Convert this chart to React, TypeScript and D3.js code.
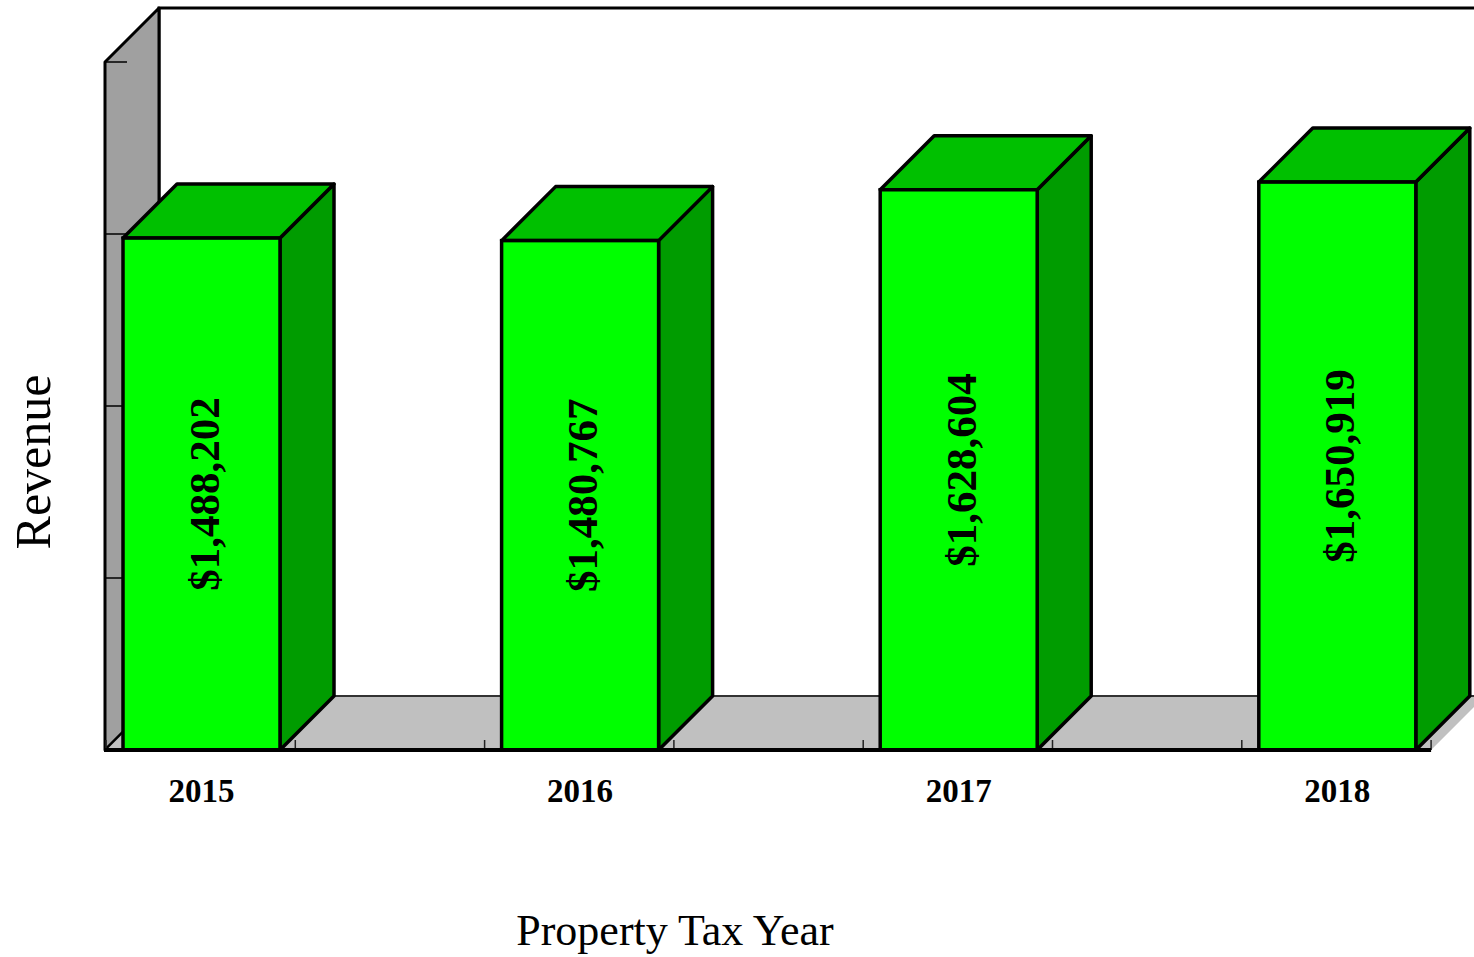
import React, { useEffect, useRef } from "react";
import * as d3 from "d3";

// chart data
const years = ["2015", "2016", "2017", "2018"];
const revenue = [1488202, 1480767, 1628604, 1650919];
const yTicks = [0, 500000, 1000000, 1500000, 2000000];

const App = () => {
  const svgRef = useRef<SVGSVGElement | null>(null);

  useEffect(() => {
    const width = 1474;
    const height = 957;
    const depth = 54; // 3d offset
    const floorY = 750;
    const left = 106;
    const band = 378.6;

    const svg = d3.select(svgRef.current);
    svg.selectAll("*").remove();
    svg.attr("width", width).attr("height", height);

    const x = d3
      .scaleBand()
      .domain(years)
      .range([left, left + band * years.length]);

    const y = d3.scaleLinear().domain([0, 2000000]).range([floorY, 62]);

    const axisEnd = left + x.bandwidth() * 3.5;
    const font = "'Liberation Serif', 'Times New Roman', serif";

    // back wall edges
    svg
      .append("path")
      .attr("d", `M${left - 1 + depth},${floorY - depth} V${y(2000000) - depth} H${width + 20}`)
      .attr("fill", "none")
      .attr("stroke", "black")
      .attr("stroke-width", 3);

    // left wall
    svg
      .append("path")
      .attr(
        "d",
        `M${left - 1},${y(2000000)} L${left - 1 + depth},${y(2000000) - depth} V${floorY - depth} L${left - 1},${floorY} Z`
      )
      .attr("fill", "#a0a0a0")
      .attr("stroke", "black")
      .attr("stroke-width", 3)
      .attr("stroke-linejoin", "round");

    // floor
    svg
      .append("path")
      .attr(
        "d",
        `M${left - 1},${floorY} L${left - 1 + depth},${floorY - depth} H${axisEnd + depth} L${axisEnd},${floorY} Z`
      )
      .attr("fill", "#c0c0c0");
    svg
      .append("line")
      .attr("x1", left - 1 + depth)
      .attr("x2", axisEnd + depth)
      .attr("y1", floorY - depth)
      .attr("y2", floorY - depth)
      .attr("stroke", "#333")
      .attr("stroke-width", 2);
    svg
      .append("line")
      .attr("x1", left - 1)
      .attr("x2", left - 1 + depth)
      .attr("y1", floorY)
      .attr("y2", floorY - depth)
      .attr("stroke", "black")
      .attr("stroke-width", 2);

    // y ticks on left wall
    svg
      .selectAll(".ytick")
      .data(yTicks.slice(1))
      .enter()
      .append("line")
      .attr("x1", left - 1)
      .attr("x2", left + 21)
      .attr("y1", (d) => y(d))
      .attr("y2", (d) => y(d))
      .attr("stroke", "black")
      .attr("stroke-width", 1.5);

    // x ticks at half bands
    const xTicks = d3.range(0, 8).map((i) => left + (i * x.bandwidth()) / 2);
    svg
      .selectAll(".xtick")
      .data(xTicks.filter((t) => t <= axisEnd + 1))
      .enter()
      .append("line")
      .attr("x1", (d) => d)
      .attr("x2", (d) => d)
      .attr("y1", floorY)
      .attr("y2", floorY - 10)
      .attr("stroke", "#222")
      .attr("stroke-width", 1.5);

    // bars
    const barOffset = 17;
    const barWidth = 157;
    const data = years.map((yr, i) => ({ year: yr, value: revenue[i] }));

    const bars = svg.selectAll(".bar").data(data).enter().append("g");

    bars
      .append("path")
      .attr("d", (d) => {
        const x0 = (x(d.year) as number) + barOffset;
        const x1 = x0 + barWidth;
        const yt = y(d.value);
        return `M${x1},${yt} L${x1 + depth},${yt - depth} V${floorY - depth} L${x1},${floorY} Z`;
      })
      .attr("fill", "#009c00")
      .attr("stroke", "black")
      .attr("stroke-width", 3.5)
      .attr("stroke-linejoin", "round");

    bars
      .append("path")
      .attr("d", (d) => {
        const x0 = (x(d.year) as number) + barOffset;
        const x1 = x0 + barWidth;
        const yt = y(d.value);
        return `M${x0},${yt} L${x0 + depth},${yt - depth} H${x1 + depth} L${x1},${yt} Z`;
      })
      .attr("fill", "#00c000")
      .attr("stroke", "black")
      .attr("stroke-width", 3.5)
      .attr("stroke-linejoin", "round");

    bars
      .append("rect")
      .attr("x", (d) => (x(d.year) as number) + barOffset)
      .attr("y", (d) => y(d.value))
      .attr("width", barWidth)
      .attr("height", (d) => floorY - y(d.value))
      .attr("fill", "#00ff00")
      .attr("stroke", "black")
      .attr("stroke-width", 3.5);

    // value labels
    bars
      .append("text")
      .attr("transform", (d) => {
        const cx = (x(d.year) as number) + barOffset + barWidth / 2 + 2;
        const cy = (y(d.value) + floorY) / 2;
        return `translate(${cx},${cy}) rotate(-90)`;
      })
      .attr("text-anchor", "middle")
      .attr("dy", "0.35em")
      .attr("font-family", font)
      .attr("font-weight", "bold")
      .attr("font-size", 43)
      .text((d) => d3.format("$,")(d.value));

    // front axis line
    svg
      .append("line")
      .attr("x1", left - 2)
      .attr("x2", axisEnd)
      .attr("y1", floorY)
      .attr("y2", floorY)
      .attr("stroke", "black")
      .attr("stroke-width", 4);

    // year labels
    svg
      .selectAll(".year")
      .data(years)
      .enter()
      .append("text")
      .attr("x", (d) => (x(d) as number) + barOffset + barWidth / 2)
      .attr("y", 802)
      .attr("text-anchor", "middle")
      .attr("font-family", font)
      .attr("font-weight", "bold")
      .attr("font-size", 33)
      .text((d) => d);

    // axis titles
    svg
      .append("text")
      .attr("transform", `translate(50, 462) rotate(-90)`)
      .attr("text-anchor", "middle")
      .attr("font-family", font)
      .attr("font-size", 50)
      .text("Revenue");

    svg
      .append("text")
      .attr("x", 675)
      .attr("y", 945)
      .attr("text-anchor", "middle")
      .attr("font-family", font)
      .attr("font-size", 44)
      .text("Property Tax Year");
  }, []);

  return (
    <svg
      ref={svgRef}
      style={{ position: "absolute", left: 0, top: 0, background: "white" }}
    ></svg>
  );
};

export default App;
